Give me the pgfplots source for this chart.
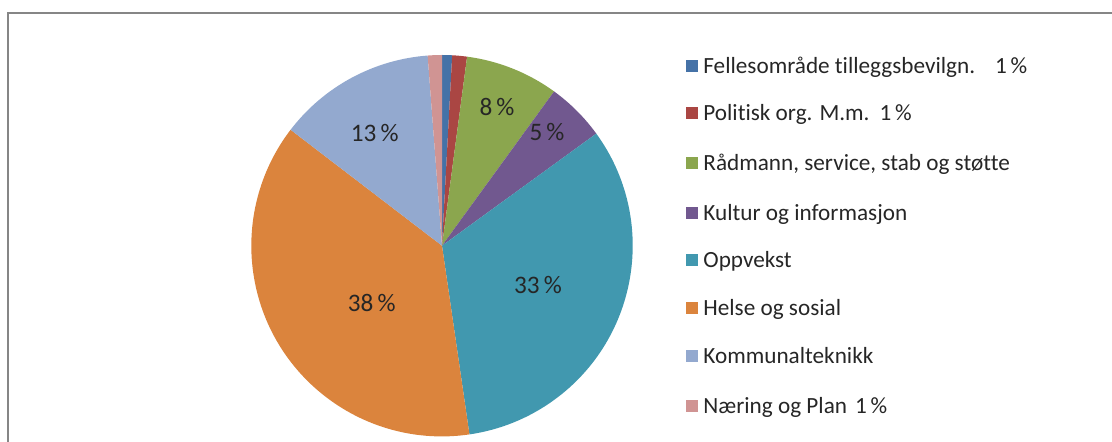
\documentclass[border=0pt]{standalone}
\usepackage{pgfplots}
\pgfplotsset{compat=1.18}
\usepackage{fontspec}
\setmainfont{Carlito}[Ligatures=NoCommon]
\definecolor{c1}{HTML}{4572A7}
\definecolor{c2}{HTML}{AA4643}
\definecolor{c3}{HTML}{8BA64E}
\definecolor{c4}{HTML}{71588F}
\definecolor{c5}{HTML}{4198AF}
\definecolor{c6}{HTML}{DB843D}
\definecolor{c7}{HTML}{93A9CF}
\definecolor{c8}{HTML}{D09493}
\definecolor{frame}{HTML}{868686}
\definecolor{txt}{HTML}{262626}
% shares (percent) in clockwise order from 12 o'clock
\def\pieshares{0.85/c1, 1.25/c2, 7.9/c3, 5.0/c4, 32.7/c5, 37.7/c6, 13.4/c7, 1.2/c8}
\begin{document}
\begin{tikzpicture}
\path[use as bounding box] (0,0) rectangle (556bp,221bp);
\begin{axis}[
  at={(0,0)}, anchor=south west,
  scale only axis, width=556bp, height=221bp,
  xmin=0, xmax=1112, ymin=0, ymax=442,
  axis lines=none, clip=false,
  font=\fontsize{11.6bp}{13bp}\selectfont,
]
% frame
\draw[frame, line width=1.1bp] (axis cs:8,-2) -- (axis cs:8,429.3) -- (axis cs:1114,429.3);
% pie
\pgfplotsextra{
  \gdef\cum{0}
  \foreach \v/\c in \pieshares {
    \pgfmathsetmacro\sa{90-3.6*\cum}
    \pgfmathsetmacro\ea{90-3.6*(\cum+\v)}
    \fill[\c] (axis cs:442,196.3) -- ++(\sa:95.35bp) arc[start angle=\sa, end angle=\ea, radius=95.35bp] -- cycle;
    \pgfmathsetmacro\newcum{\cum+\v}
    \global\let\cum\newcum
  }
}
% data labels
\tikzset{dl/.style={txt, inner sep=0, anchor=center, font=\fontsize{12.6bp}{14bp}\selectfont}}
\node[dl] at (axis cs:497,335.3) {8\,\%};
\node[dl] at (axis cs:547,310) {5\,\%};
\node[dl] at (axis cs:538,157) {33\,\%};
\node[dl] at (axis cs:371.7,139) {38\,\%};
\node[dl] at (axis cs:374.7,309) {13\,\%};
% legend
\tikzset{lg/.style={txt, inner sep=0, anchor=base west}}
\fill[c1] (axis cs:686,370) rectangle (axis cs:698,382);
\node[lg] at (axis cs:703,368.5) {Fellesområde tilleggsbevilgn.\hspace{10bp}1\,\%};
\fill[c2] (axis cs:686,323) rectangle (axis cs:698,335);
\node[lg] at (axis cs:703,321.5) {Politisk org. M.m.\hspace{5bp}1\,\%};
\fill[c3] (axis cs:686,273) rectangle (axis cs:698,285);
\node[lg] at (axis cs:703,271.5) {Rådmann, service, stab og støtte};
\fill[c4] (axis cs:686,223) rectangle (axis cs:698,235);
\node[lg] at (axis cs:703,221.5) {Kultur og informasjon};
\fill[c5] (axis cs:686,176) rectangle (axis cs:698,188);
\node[lg] at (axis cs:703,174.5) {Oppvekst};
\fill[c6] (axis cs:686,128) rectangle (axis cs:698,140);
\node[lg] at (axis cs:703,126.5) {Helse og sosial};
\fill[c7] (axis cs:686,80) rectangle (axis cs:698,92);
\node[lg] at (axis cs:703,78.5) {Kommunalteknikk};
\fill[c8] (axis cs:686,30) rectangle (axis cs:698,42);
\node[lg] at (axis cs:703,28.5) {Næring og Plan\hspace{4bp}1\,\%};
\end{axis}
\end{tikzpicture}
\end{document}
